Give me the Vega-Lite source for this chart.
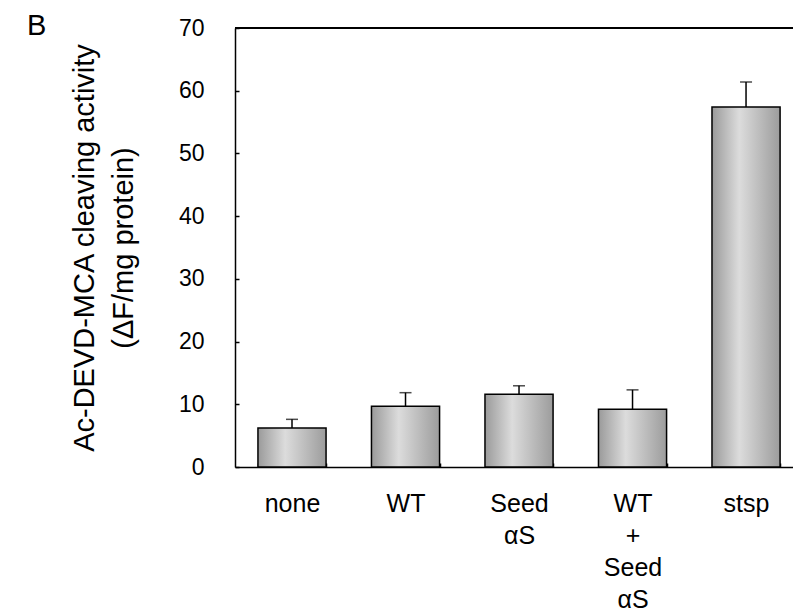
{
  "$schema": "https://vega.github.io/schema/vega-lite/v6.json",
  "autosize": {"type": "none"},
  "padding": {"left": 235, "top": 28, "right": 0, "bottom": 147},
  "width": 558,
  "height": 439,
  "background": "white",
  "title": {"text": "B", "anchor": "start", "frame": "group", "dx": -208, "dy": 28, "fontSize": 29, "font": "Liberation Sans", "fontWeight": "normal", "color": "black"},
  "config": {
    "view": {"stroke": null},
    "font": "Liberation Sans",
    "axis": {"labelFont": "Liberation Sans", "titleFont": "Liberation Sans", "labelColor": "black", "titleColor": "black", "domainColor": "black", "tickColor": "black", "grid": false},
    "axisX": {"labelFontSize": 25, "labelAngle": 0, "labelLineHeight": 32, "labelPadding": 28, "tickBand": "extent", "tickSize": -4, "tickWidth": 1.5, "domainWidth": 1.5},
    "axisY": {"labelFontSize": 23, "labelPadding": 35, "tickSize": -4, "tickWidth": 1.5, "domainWidth": 1.5, "titleFontSize": 29, "titleFontWeight": "normal", "titleLineHeight": 39, "titlePadding": 40}
  },
  "data": {"values": [
    {"group": "none", "value": 6.2, "upper": 7.6},
    {"group": "WT", "value": 9.7, "upper": 11.85},
    {"group": "Seed αS", "value": 11.6, "upper": 12.95},
    {"group": "WT + Seed αS", "value": 9.2, "upper": 12.3},
    {"group": "stsp", "value": 57.4, "upper": 61.4}
  ]},
  "encoding": {
    "x": {
      "field": "group", "type": "nominal", "sort": null,
      "scale": {"paddingInner": 0.4, "paddingOuter": 0.158, "align": 0.64},
      "axis": {"title": null, "labelExpr": "split(datum.label, ' ')"}
    }
  },
  "layer": [
    {
      "mark": {
        "type": "bar", "stroke": "black", "strokeWidth": 1.5,
        "color": {"gradient": "linear", "x1": 0, "y1": 0, "x2": 1, "y2": 0, "stops": [
          {"offset": 0, "color": "#9a9a9a"},
          {"offset": 0.4, "color": "#dcdcdc"},
          {"offset": 1, "color": "#9c9c9c"}
        ]}
      },
      "encoding": {
        "y": {
          "field": "value", "type": "quantitative",
          "scale": {"domain": [0, 70], "nice": false},
          "axis": {"values": [0, 10, 20, 30, 40, 50, 60, 70], "title": ["Ac-DEVD-MCA cleaving activity", "(ΔF/mg protein)"]}
        }
      }
    },
    {
      "mark": {"type": "rule", "color": "black", "strokeWidth": 1.5},
      "encoding": {"x": null, "y": {"datum": 70, "type": "quantitative"}}
    },
    {
      "mark": {"type": "rule", "color": "black", "strokeWidth": 1.5},
      "encoding": {"y": {"field": "value", "type": "quantitative"}, "y2": {"field": "upper"}}
    },
    {
      "mark": {"type": "tick", "color": "black", "thickness": 1.5, "size": 12, "orient": "horizontal"},
      "encoding": {"y": {"field": "upper", "type": "quantitative"}}
    }
  ]
}
